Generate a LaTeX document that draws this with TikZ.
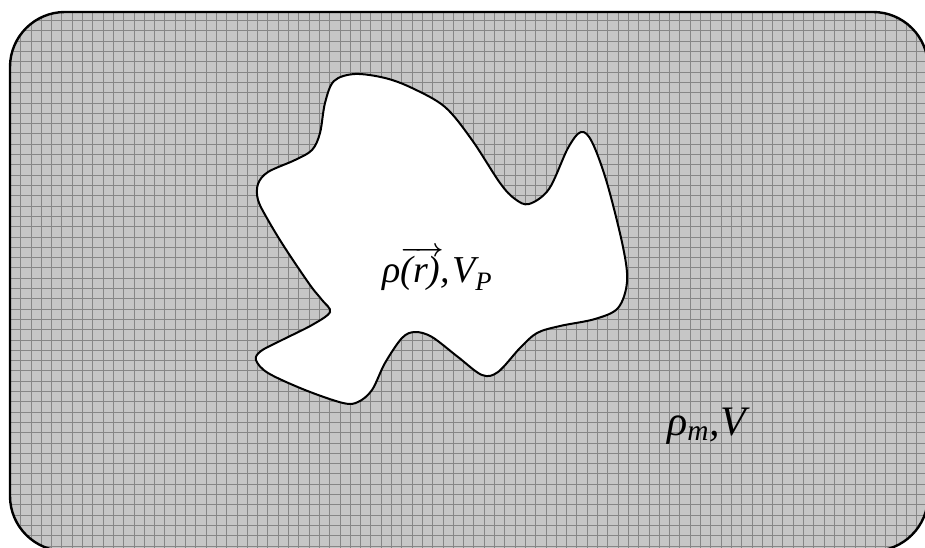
\documentclass[tikz,border=0pt]{standalone}
\usepackage{fontspec}
\setmainfont{Liberation Serif}
\usetikzlibrary{positioning}

\begin{document}
\begin{tikzpicture}[x=1pt, y=-1pt,
  frame/.style={draw=black, line width=2.4pt, rounded corners=55pt},
  blob/.style={draw=black, line width=2pt, fill=white},
  lbl/.style={inner sep=0pt, anchor=base west, font=\itshape}
]
\useasboundingbox (0,0) rectangle (925,548);
% gray medium with its grid
\begin{scope}
  \clip[rounded corners=55pt] (10,12) rectangle (928,551);
  \fill[gray!45] (0,0) rectangle (930,552);
  \draw[gray!95, line width=0.8pt, step=10.3pt] (0,0) grid (930,552);
\end{scope}
\begin{scope}
  \clip (0,0) rectangle (925,548);
  \draw[frame] (10,12) rectangle (928,551);
\end{scope}

% the particle
\draw[blob] plot[smooth cycle, tension=0.55] coordinates {
  (355,74) (385,78) (412,88) (445,107) (472,140) (500,183) (515,199)
  (529,204) (549,189) (568,148) (581,132) (592,142) (607,183) (623,247)
  (627,282) (618,308) (595,319) (560,326) (537,333) (520,348) (498,372)
  (482,375) (458,357) (432,337) (415,332) (402,338) (385,363) (372,390)
  (358,402) (343,403) (305,390) (268,373) (256,360) (261,351) (282,340)
  (312,325) (330,312) (322,300) (310,285) (285,248) (268,220) (258,200)
  (258,184) (268,172) (295,160) (312,150) (320,133) (325,103) (334,81)};

\node[lbl, font=\itshape\fontsize{38}{42}\selectfont] (part) at (382,282)
  {ρ{\boldmath$\overrightarrow{\mbox{\itshape(r)}\kern3pt}$}\kern-3pt,\kern2pt V\textsubscript{P}};
\node[lbl, font=\itshape\fontsize{42}{46}\selectfont] (med) at (667,435)
  {ρ\textsubscript{m},\kern1pt V};
\end{tikzpicture}
\end{document}
